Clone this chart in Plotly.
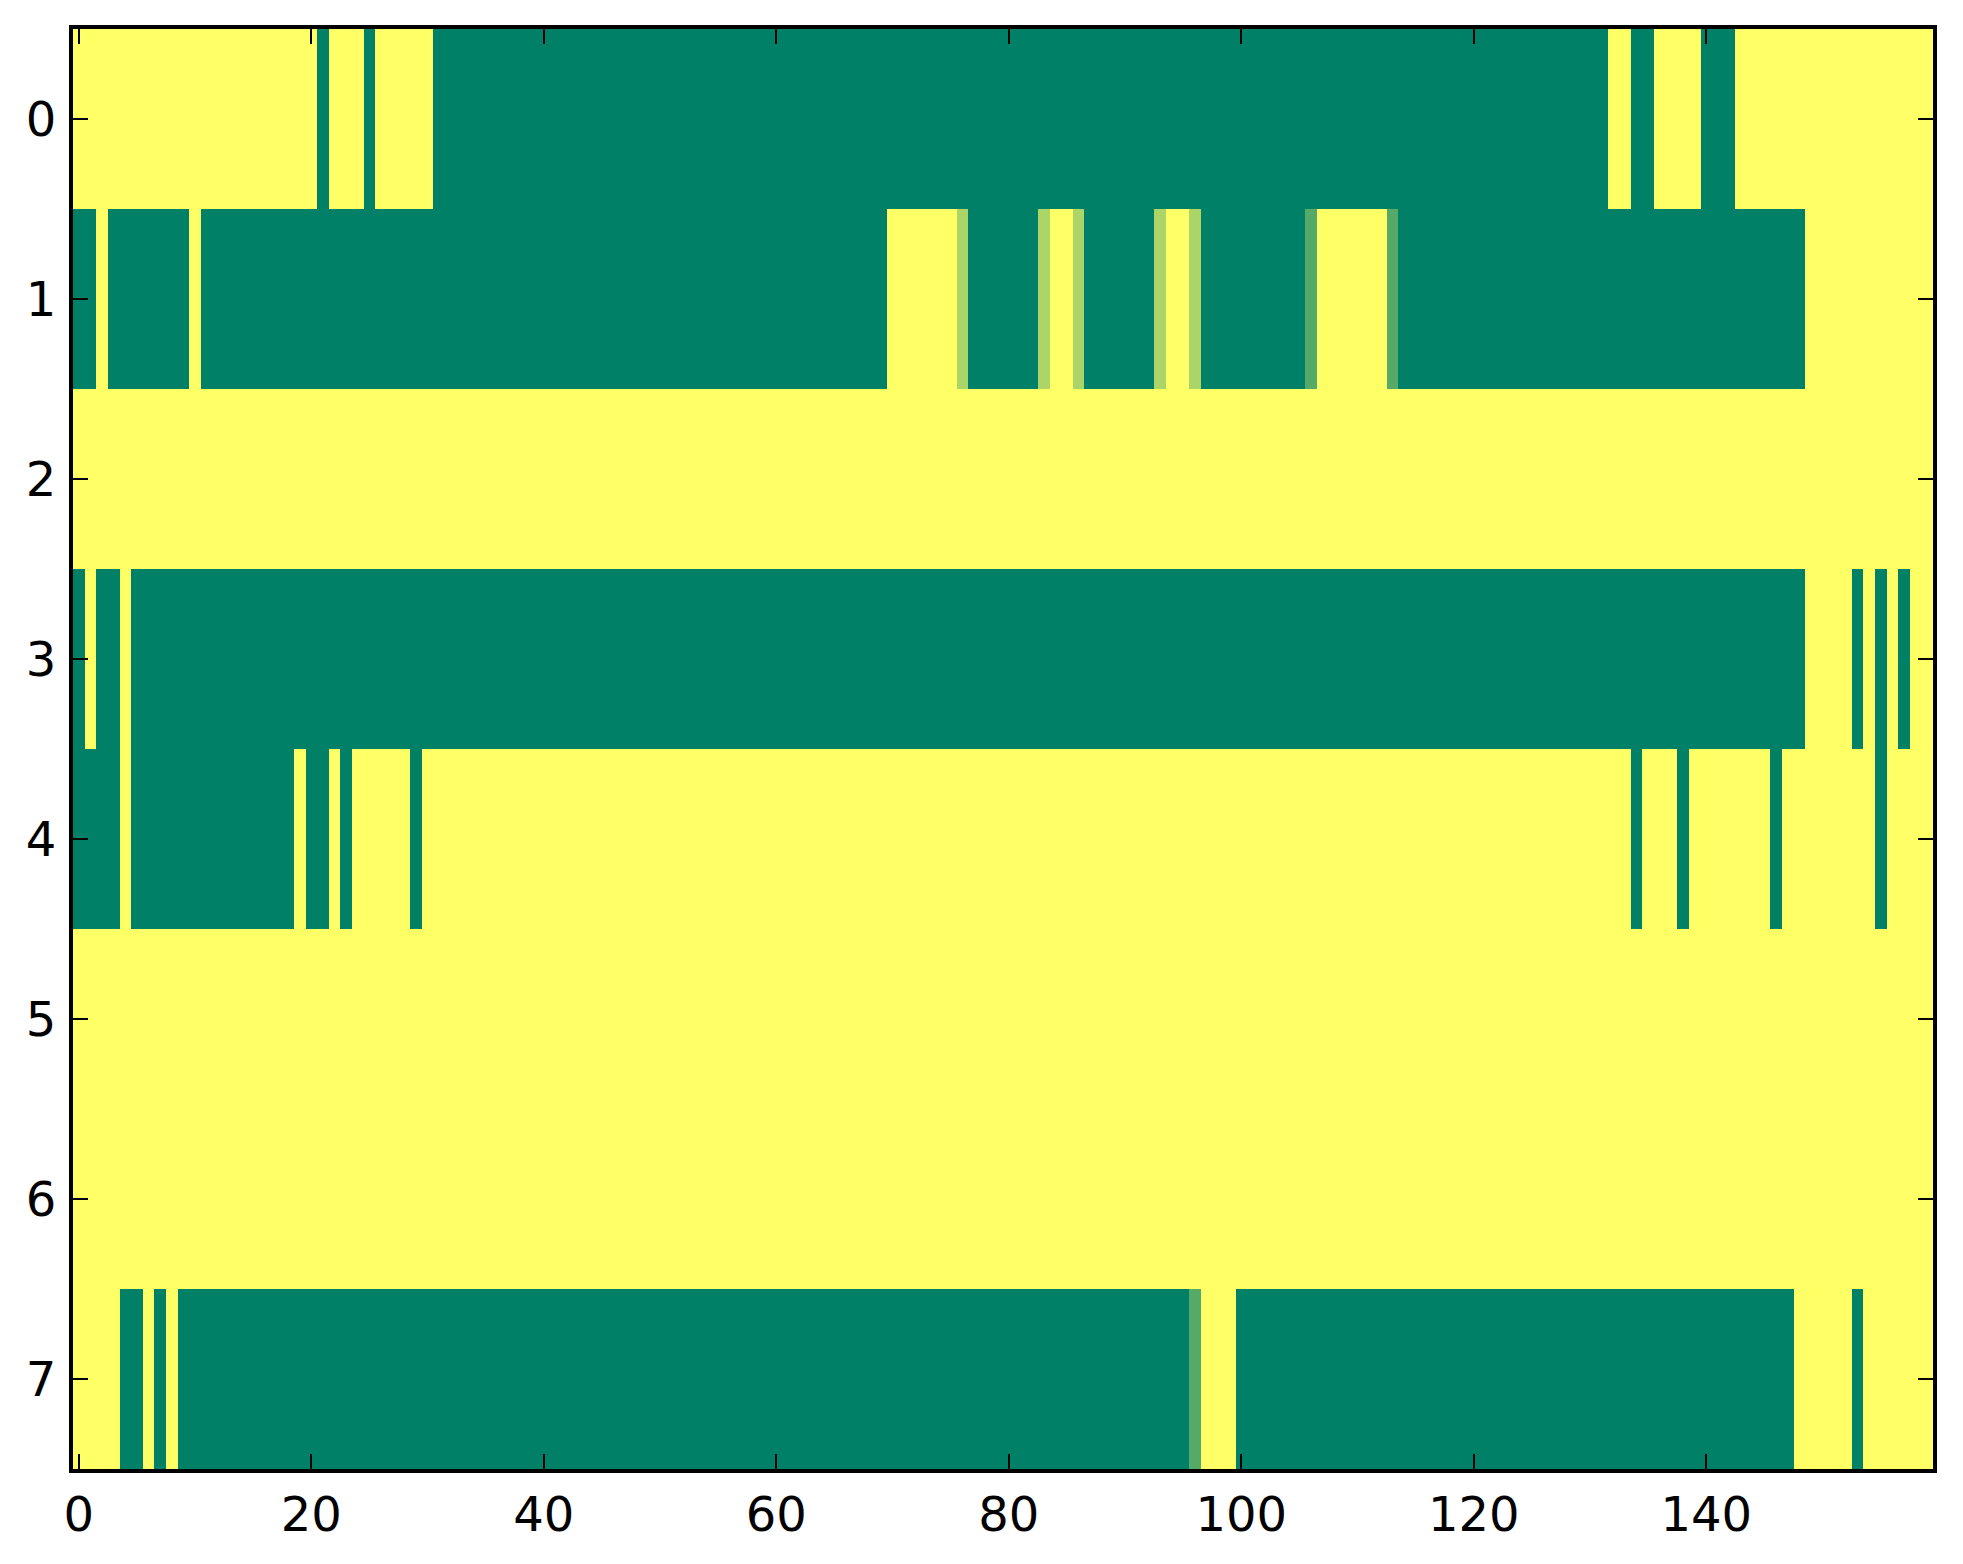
import plotly.graph_objects as go

# each row as (value, run length) pairs, read left to right; 0 = green, 1 = yellow
row0 = [(1, 21), (0, 1), (1, 3), (0, 1), (1, 5), (0, 101), (1, 2), (0, 2), (1, 4), (0, 3), (1, 17)]
row1 = [(0, 2), (1, 1), (0, 7), (1, 1), (0, 59), (1, 6), (0.67, 1), (0, 6), (0.67, 1), (1, 2),
        (0.67, 1), (0, 6), (0.67, 1), (1, 2), (0.67, 1), (0, 9), (0.33, 1), (1, 6), (0.33, 1),
        (0, 35), (1, 11)]
row2 = [(1, 160)]
row3 = [(0, 1), (1, 1), (0, 2), (1, 1), (0, 144), (1, 4), (0, 1), (1, 1), (0, 1), (1, 1), (0, 1), (1, 2)]
row4 = [(0, 4), (1, 1), (0, 14), (1, 1), (0, 2), (1, 1), (0, 1), (1, 5), (0, 1), (1, 104), (0, 1),
        (1, 3), (0, 1), (1, 7), (0, 1), (1, 8), (0, 1), (1, 4)]
row5 = [(1, 160)]
row6 = [(1, 160)]
row7 = [(1, 4), (0, 2), (1, 1), (0, 1), (1, 1), (0, 87), (0.33, 1), (1, 3), (0, 48), (1, 5), (0, 1), (1, 6)]

rows = [row0, row1, row2, row3, row4, row5, row6, row7]
x_ticks = [0, 20, 40, 60, 80, 100, 120, 140]
y_ticks = [0, 1, 2, 3, 4, 5, 6, 7]


def expand(runs):
    out = []
    for v, n in runs:
        out += [v] * n
    return out


z = [expand(r) for r in rows]

# matplotlib "summer" colormap
summer = [[0, "#008066"], [1, "#ffff66"]]

fig = go.Figure(go.Heatmap(z=z, colorscale=summer, zmin=0, zmax=1, showscale=False))

axis_style = dict(showline=True, linecolor="black", linewidth=4, mirror="allticks",
                  ticks="inside", ticklen=15, tickwidth=2, tickcolor="black",
                  showgrid=False, zeroline=False,
                  tickfont=dict(family="DejaVu Sans", size=48, color="black"))

fig.update_xaxes(range=[-0.5, 159.5], tickvals=x_ticks, ticklabelstandoff=0, **axis_style)
fig.update_yaxes(range=[7.5, -0.5], tickvals=y_ticks, ticklabelstandoff=3, **axis_style)

# page body adds an 8px offset, so the figure is 8px smaller and margins shifted
fig.update_layout(width=1955, height=1556, paper_bgcolor="white", plot_bgcolor="white",
                  margin=dict(l=65, r=30, t=21, b=95))

fig.write_html("out.html")
